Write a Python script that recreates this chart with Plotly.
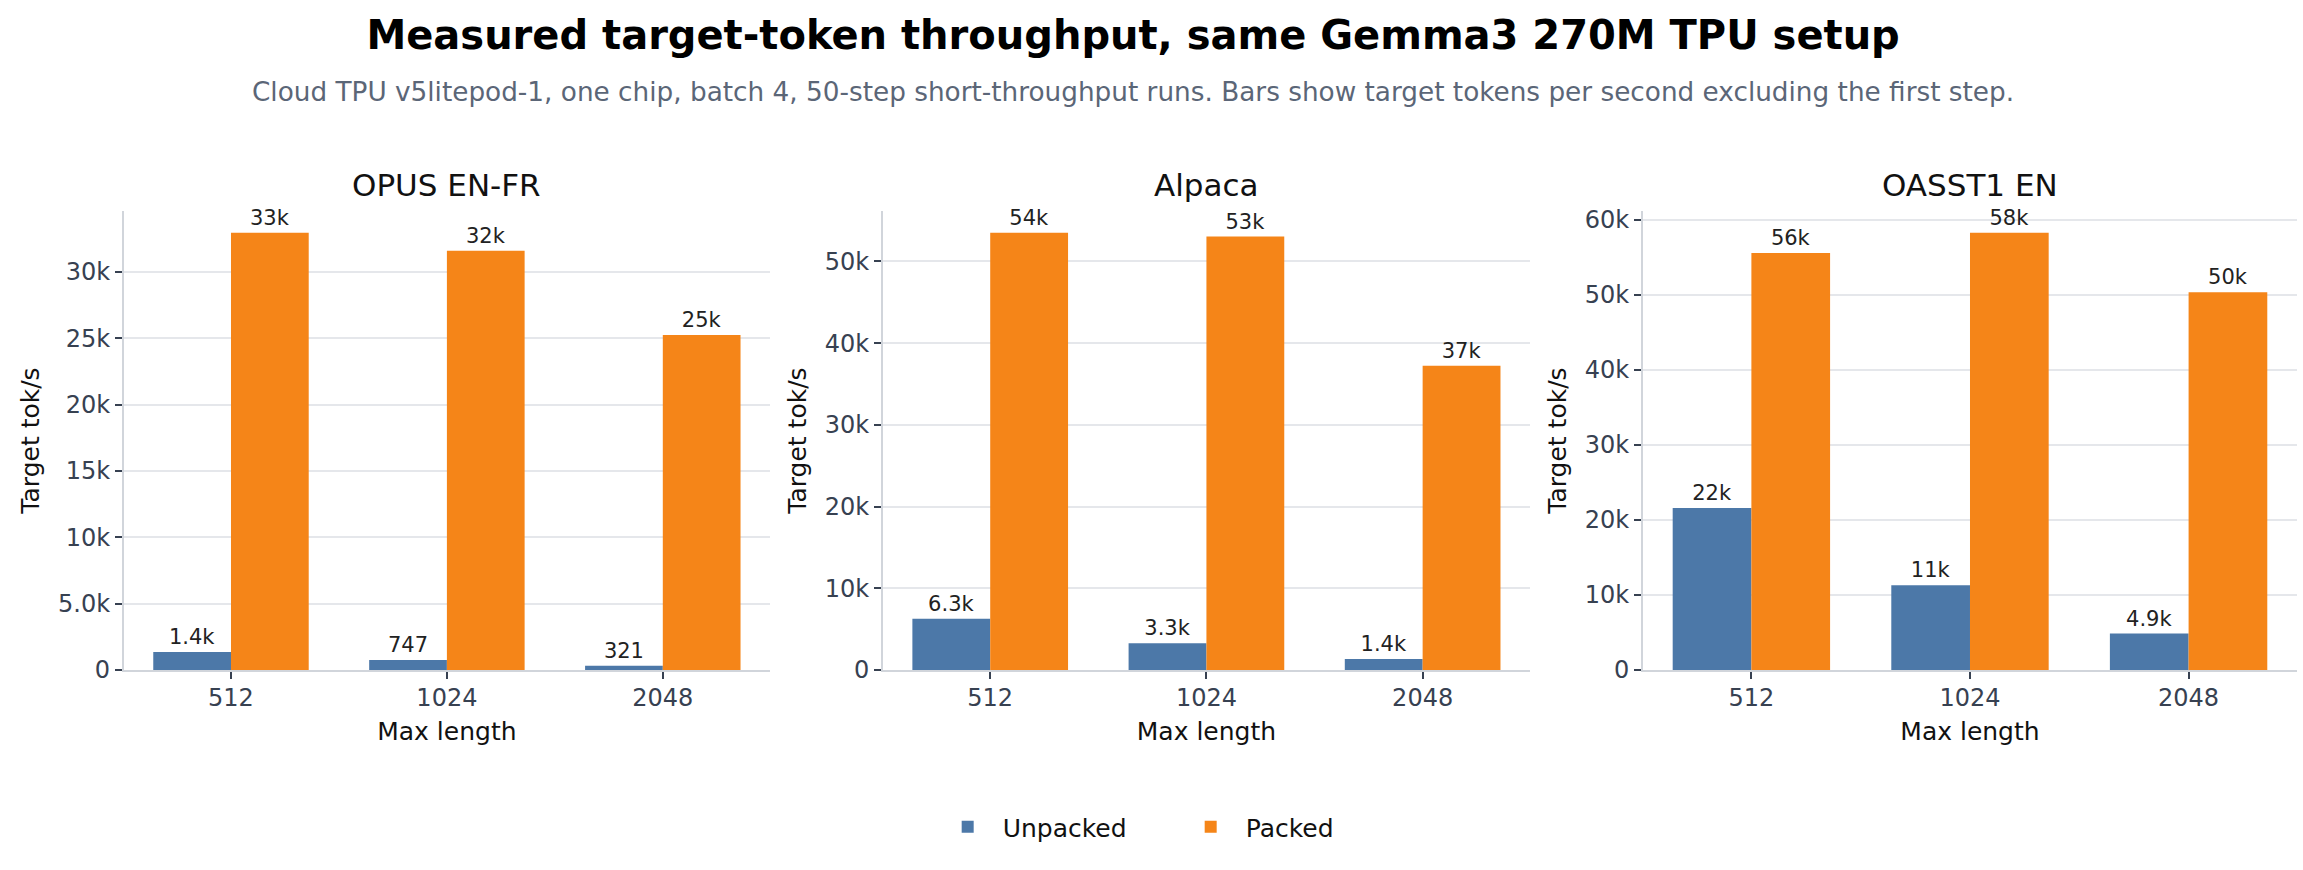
import plotly.graph_objects as go

# ---------------- data ----------------
categories = ["512", "1024", "2048"]
panel_titles = ["OPUS EN-FR", "Alpaca", "OASST1 EN"]
series_names = ["Unpacked", "Packed"]

opus_unpacked = [1360, 747, 321]
opus_packed = [32950, 31600, 25250]
opus_unpacked_labels = ["1.4k", "747", "321"]
opus_packed_labels = ["33k", "32k", "25k"]

alpaca_unpacked = [6260, 3260, 1360]
alpaca_packed = [53500, 53050, 37250]
alpaca_unpacked_labels = ["6.3k", "3.3k", "1.4k"]
alpaca_packed_labels = ["54k", "53k", "37k"]

oasst_unpacked = [21600, 11300, 4860]
oasst_packed = [55550, 58250, 50350]
oasst_unpacked_labels = ["22k", "11k", "4.9k"]
oasst_packed_labels = ["56k", "58k", "50k"]

opus_ytick_vals = [0, 5000, 10000, 15000, 20000, 25000, 30000]
opus_ytick_text = ["0", "5.0k", "10k", "15k", "20k", "25k", "30k"]
alpaca_ytick_vals = [0, 10000, 20000, 30000, 40000, 50000]
alpaca_ytick_text = ["0", "10k", "20k", "30k", "40k", "50k"]
oasst_ytick_vals = [0, 10000, 20000, 30000, 40000, 50000, 60000]
oasst_ytick_text = ["0", "10k", "20k", "30k", "40k", "50k", "60k"]

title_text = "Measured target-token throughput, same Gemma3 270M TPU setup"
subtitle_text = ("Cloud TPU v5litepod-1, one chip, batch 4, 50-step short-throughput runs. "
                 "Bars show target tokens per second excluding the first step.")
x_title = "Max length"
y_title = "Target tok/s"

# ---------------- style ----------------
FONT = "DejaVu Sans"
C_UNPACKED = "#4C78A8"
C_PACKED = "#F58518"
TICK_COLOR = "#374151"
GRID_COLOR = "#e5e7eb"
AXIS_COLOR = "#d1d5db"

W, H = 2303, 870
x_domains = [[0.0538, 0.3343], [0.3834, 0.6643], [0.7134, 0.9974]]
y_domain = [1 - 670 / H, 1 - 211 / H]

panels = [
    (opus_unpacked, opus_packed, opus_unpacked_labels, opus_packed_labels, opus_ytick_vals, opus_ytick_text),
    (alpaca_unpacked, alpaca_packed, alpaca_unpacked_labels, alpaca_packed_labels, alpaca_ytick_vals, alpaca_ytick_text),
    (oasst_unpacked, oasst_packed, oasst_unpacked_labels, oasst_packed_labels, oasst_ytick_vals, oasst_ytick_text),
]

fig = go.Figure()
layout_axes = {}
annotations = []

for i, (unp, pck, unp_lab, pck_lab, yv, yt) in enumerate(panels):
    n = i + 1
    xa = "x" if n == 1 else f"x{n}"
    ya = "y" if n == 1 else f"y{n}"
    for name, vals, labs, color in [(series_names[0], unp, unp_lab, C_UNPACKED),
                                    (series_names[1], pck, pck_lab, C_PACKED)]:
        fig.add_trace(go.Bar(
            x=categories, y=vals, name=name, text=labs,
            textposition="outside", constraintext="none", cliponaxis=False,
            textfont=dict(family=FONT, size=21, color="#222222"),
            marker=dict(color=color, line=dict(width=0)),
            xaxis=xa, yaxis=ya, showlegend=(n == 1), legendgroup=name,
            hoverinfo="x+y",
        ))
    ymax = max(max(unp), max(pck)) * 1.05
    xkey = "xaxis" if n == 1 else f"xaxis{n}"
    ykey = "yaxis" if n == 1 else f"yaxis{n}"
    layout_axes[xkey] = dict(
        domain=x_domains[i], anchor=ya, type="category",
        range=[-0.496, 2.496],
        showline=True, linecolor=AXIS_COLOR, linewidth=2,
        showgrid=False, zeroline=False,
        ticks="outside", ticklen=7, tickwidth=1.6, tickcolor=TICK_COLOR,
        ticklabelstandoff=-2,
        tickfont=dict(family=FONT, size=24, color=TICK_COLOR),
        title=dict(text=x_title, font=dict(family=FONT, size=25, color="#111111"), standoff=12),
    )
    layout_axes[ykey] = dict(
        domain=y_domain, anchor=xa, range=[0, ymax],
        tickvals=yv, ticktext=yt,
        showline=True, linecolor=AXIS_COLOR, linewidth=2,
        showgrid=True, gridcolor=GRID_COLOR, gridwidth=1.6, zeroline=False,
        ticks="outside", ticklen=7, tickwidth=1.6, tickcolor=TICK_COLOR,
        tickfont=dict(family=FONT, size=24, color=TICK_COLOR),
        title=dict(text=y_title, font=dict(family=FONT, size=25, color="#111111"), standoff=11),
    )
    annotations.append(dict(
        text=panel_titles[i], xref="paper", yref="paper",
        x=(x_domains[i][0] + x_domains[i][1]) / 2, y=y_domain[1],
        xanchor="center", yanchor="bottom", yshift=6, showarrow=False,
        font=dict(family=FONT, size=31, color="#111111"),
    ))

annotations.append(dict(
    text=subtitle_text, xref="paper", yref="paper", x=0.492, y=1 - 92 / H,
    xanchor="center", yanchor="middle", showarrow=False,
    font=dict(family=FONT, size=26.3, color="#5b6677"),
))

fig.update_layout(
    width=W, height=H,
    margin=dict(l=0, r=0, t=0, b=0, autoexpand=False),
    paper_bgcolor="white", plot_bgcolor="white",
    barmode="group", bargap=0.28, bargroupgap=0,
    title=dict(text=f"<b>{title_text}</b>", x=0.492, xanchor="center",
               y=1 - 35 / H, yanchor="middle",
               font=dict(family=FONT, size=40, color="#000000")),
    legend=dict(orientation="h", x=0.5105, xanchor="center", y=1 - 827 / H, yanchor="middle",
                font=dict(family=FONT, size=25, color="#111111"),
                itemwidth=60, entrywidth=168, bgcolor="rgba(0,0,0,0)"),
    annotations=annotations,
    font=dict(family=FONT),
    **layout_axes,
)

fig.write_html("out.html")
